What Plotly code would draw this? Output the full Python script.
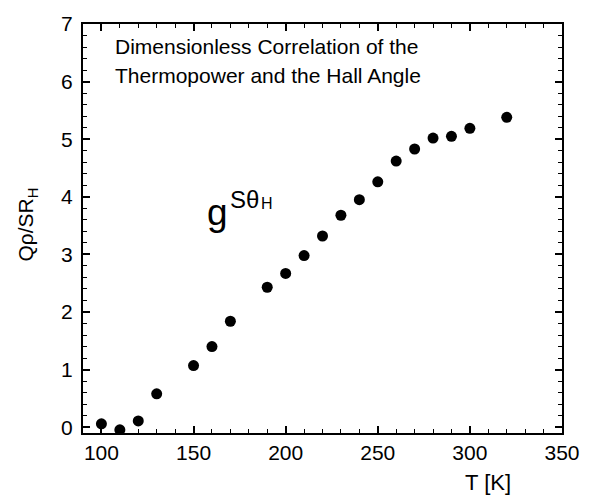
import plotly.graph_objects as go

T_K = [100, 110, 120, 130, 150, 160, 170, 190, 200, 210, 220, 230, 240, 250, 260, 270, 280, 290, 300, 320]
g_val = [0.06, -0.045, 0.11, 0.58, 1.07, 1.40, 1.84, 2.43, 2.67, 2.98, 3.32, 3.68, 3.95, 4.26, 4.62, 4.83, 5.02, 5.05, 5.19, 5.38]

title_lines = ["Dimensionless Correlation of the", "Thermopower and the Hall Angle"]
x_title = "T [K]"
y_title = "Qρ/SR<sub>H</sub>"

FONT = "Liberation Sans, Arial, sans-serif"

fig = go.Figure()
fig.add_trace(go.Scatter(
    x=T_K, y=g_val, mode="markers",
    marker=dict(color="black", size=11, line=dict(width=0)),
    showlegend=False,
))

L, R, T, B = 83, 31, 17, 69
W, H = 593, 502
pw, ph = W - L - R, H - T - B

def px(xp):
    return (xp - L) / pw

def py(yp):
    return (H - B - yp) / ph

axis_common = dict(
    showline=True, linecolor="black", linewidth=2, mirror="ticks",
    ticks="inside", ticklen=7, tickwidth=1.5, tickcolor="black",
    showgrid=False, zeroline=False,
    tickfont=dict(family=FONT, size=21, color="black"),
)

fig.update_xaxes(range=[90, 350], tickvals=[100, 150, 200, 250, 300, 350],
                 minor=dict(dtick=10, tick0=0, ticklen=4, tickwidth=1.2, ticks="inside", tickcolor="black"),
                 ticklabelstandoff=0, **axis_common)
fig.update_yaxes(range=[-0.1, 7], tickvals=[0, 1, 2, 3, 4, 5, 6, 7],
                 minor=dict(dtick=0.2, tick0=0, ticklen=4, tickwidth=1.2, ticks="inside", tickcolor="black"),
                 ticklabelstandoff=4, **axis_common)

ann = []
ann.append(dict(text=title_lines[0], x=px(113), y=py(40), xref="paper", yref="paper",
                xanchor="left", yanchor="middle", showarrow=False,
                font=dict(family=FONT, size=21, color="black")))
ann.append(dict(text=title_lines[1], x=px(113), y=py(69.5), xref="paper", yref="paper",
                xanchor="left", yanchor="middle", showarrow=False,
                font=dict(family=FONT, size=21, color="black")))
# g^{S theta_H}
ann.append(dict(text="g", x=px(205), y=py(209), xref="paper", yref="paper",
                xanchor="left", yanchor="middle", showarrow=False,
                font=dict(family=FONT, size=37, color="black")))
ann.append(dict(text="Sθ", x=px(228), y=py(196), xref="paper", yref="paper",
                xanchor="left", yanchor="middle", showarrow=False,
                font=dict(family=FONT, size=24, color="black")))
ann.append(dict(text="H", x=px(259), y=py(200), xref="paper", yref="paper",
                xanchor="left", yanchor="middle", showarrow=False,
                font=dict(family=FONT, size=16, color="black")))
ann.append(dict(text=x_title, x=px(488), y=py(483), xref="paper", yref="paper",
                xanchor="center", yanchor="middle", showarrow=False,
                font=dict(family=FONT, size=22, color="black")))
ann.append(dict(text=y_title, x=px(27), y=py(221), xref="paper", yref="paper",
                xanchor="center", yanchor="middle", showarrow=False, textangle=-90,
                font=dict(family=FONT, size=21, color="black")))

fig.update_layout(
    width=W, height=H,
    margin=dict(l=L, r=R, t=T, b=B),
    paper_bgcolor="white", plot_bgcolor="white",
    annotations=ann,
)

fig.write_html("out.html")
